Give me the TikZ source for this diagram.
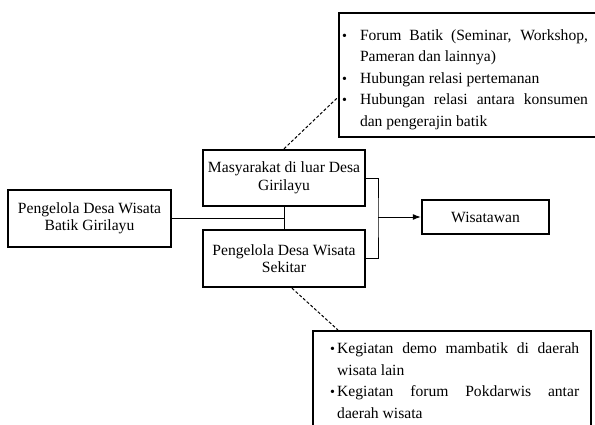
\documentclass[tikz,border=0pt]{standalone}
\usepackage{fontspec}
\setmainfont{Liberation Serif}
\usetikzlibrary{arrows.meta,calc}
\hyphenpenalty=10000
\newcommand{\butir}[2]{\par\hangindent=#1\hangafter=1\noindent\makebox[#1][l]{\fontsize{14}{14}\selectfont\textbullet}#2\par}

\begin{document}
\begin{tikzpicture}[x=1pt, y=-1pt,
    kotak/.style={draw, line width=2.4pt, inner sep=0pt, align=center, font=\fontsize{15.6}{17.5}\selectfont},
    daftar/.style={draw, line width=2.4pt, inner xsep=3pt, align=justify, font=\fontsize{15.6}{21.5}\selectfont},
    garis/.style={line width=1pt},
    putus/.style={line width=1pt, dash pattern=on 3pt off 2pt}]
    \useasboundingbox (0,0) rectangle (595,424);
    \node[kotak, minimum width=163pt, minimum height=57pt] (v1) at (89.5,218.5) {Pengelola Desa Wisata\\Batik Girilayu};
    \node[kotak, minimum width=162pt, minimum height=56pt] (v2) at (284,178) {Masyarakat di luar Desa\\Girilayu};
    \node[kotak, minimum width=162pt, minimum height=57pt] (v3) at (284,258.5) {Pengelola Desa Wisata\\Sekitar};
    \node[kotak, minimum width=127pt, minimum height=34pt] (v4) at (485.5,217) {Wisatawan};
    \node[daftar, text width=253pt, minimum height=124pt, inner ysep=0pt] (v5) at (468.5,75) {\rightskip=7pt
        \butir{18pt}{Forum Batik (Seminar, Workshop,\linebreak Pameran dan lainnya)}
        \butir{18pt}{Hubungan relasi pertemanan}
        \butir{18pt}{Hubungan relasi antara konsumen\linebreak dan pengerajin batik\rule[-5pt]{0pt}{5pt}}};
    \node[daftar, text width=272pt, inner ysep=1pt, anchor=north west] (v6) at (312,330) {\leftskip=14pt\rightskip=9pt
        \butir{7pt}{Kegiatan demo mambatik di daerah\linebreak wisata lain}
        \butir{7pt}{Kegiatan forum Pokdarwis antar\linebreak daerah wisata\rule[-24pt]{0pt}{24pt}}};
    \coordinate (m) at (378,217);
    \draw[garis] (v1.east) -- (v1.east -| v2.south);
    \draw[garis] (v2.south) -- (v3.north);
    \draw[garis] (v2.east) -| (m) |- (v3.east);
    \draw[garis, -{Latex[length=8pt,width=6pt]}] (m) -- (v4.west);
    \draw[putus] (v2.north) -- ($(v5.north west)!0.677!(v5.south west)$);
    \draw[putus] ([xshift=8pt]v3.south) -- ([xshift=26pt]v6.north west);
\end{tikzpicture}
\end{document}
